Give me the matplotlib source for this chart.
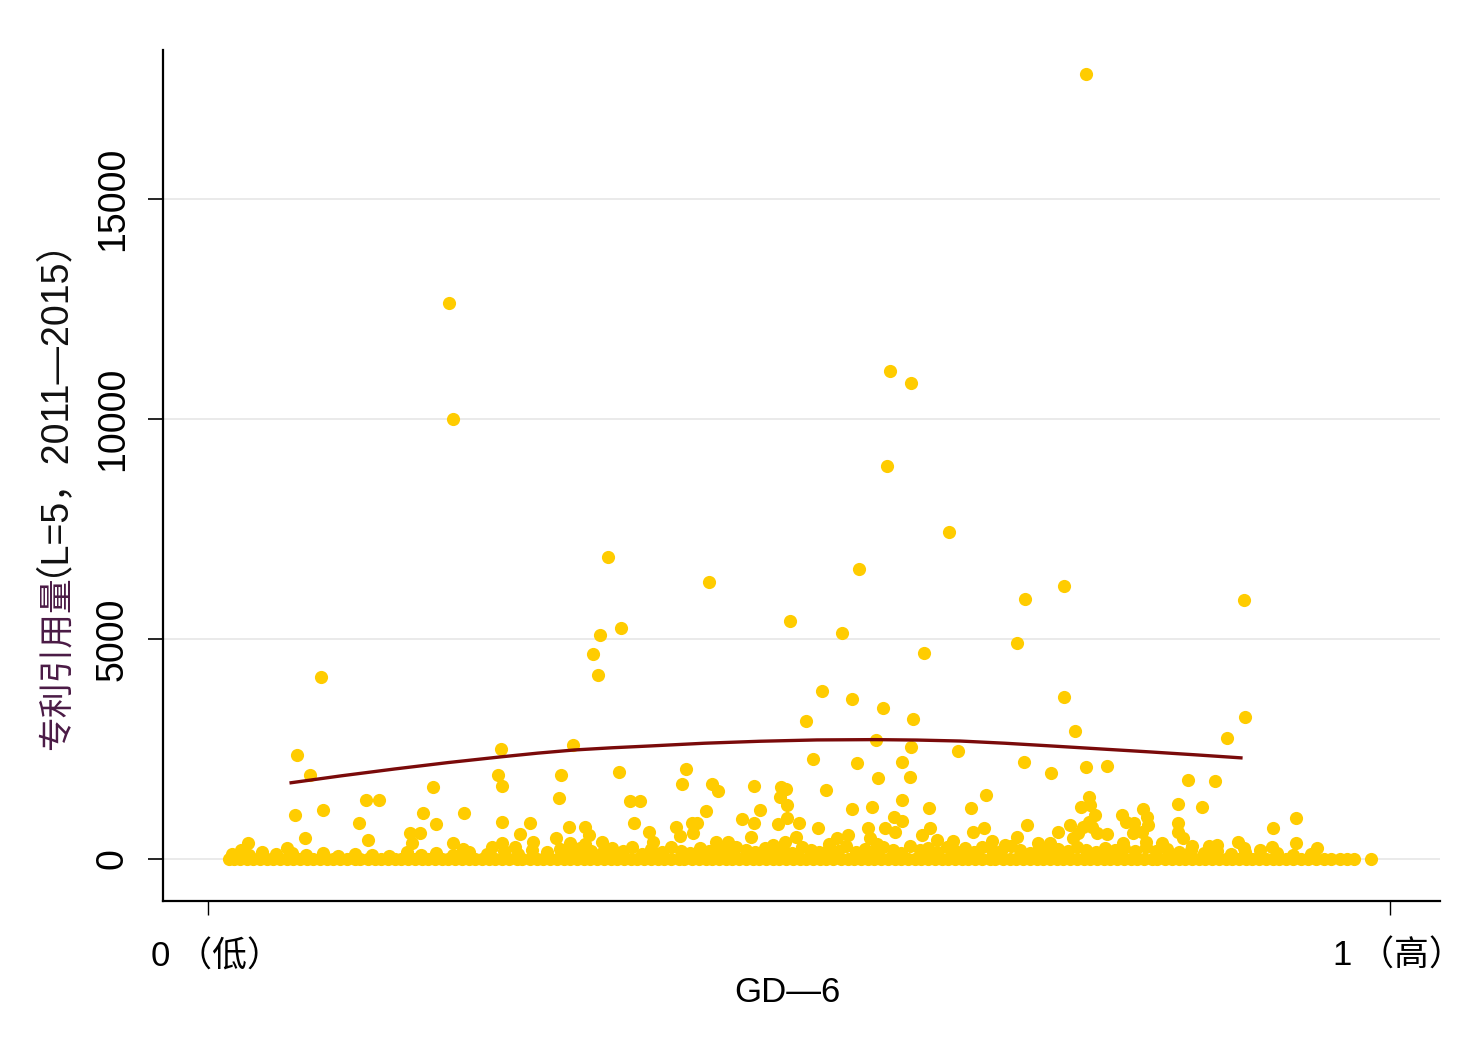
import numpy as np
import matplotlib.pyplot as plt
from matplotlib.transforms import ScaledTranslation

plt.rcParams['font.family'] = ['Liberation Sans', 'Noto Sans CJK SC', 'DejaVu Sans']

# 散点：离群点（GD-6, 专利引用量）
pts_x = [0.743, 0.204, 0.207, 0.577, 0.595, 0.574, 0.627, 0.338, 0.551, 0.424,
         0.724, 0.691, 0.876, 0.492, 0.349, 0.536, 0.332, 0.684, 0.326, 0.606,
         0.330, 0.096, 0.519, 0.545, 0.724, 0.571, 0.506, 0.596, 0.877, 0.733,
         0.565, 0.862, 0.309, 0.595, 0.634, 0.248, 0.075, 0.512, 0.549, 0.690,
         0.587, 0.086, 0.245, 0.299, 0.348, 0.404, 0.743, 0.760, 0.713, 0.567,
         0.594, 0.829, 0.852, 0.249, 0.190, 0.401, 0.426, 0.431, 0.462, 0.485,
         0.489, 0.523, 0.745, 0.658, 0.134, 0.145, 0.297, 0.357, 0.365, 0.484,
         0.490, 0.587, 0.097, 0.217, 0.182, 0.074, 0.421, 0.467, 0.545, 0.562,
         0.610, 0.645, 0.738, 0.746, 0.750, 0.773, 0.791, 0.794, 0.820, 0.841,
         0.920]
pts_y = [17840, 12640, 10000, 11090, 10820, 8930, 7430, 6860, 6590, 6300,
         6200, 5910, 5890, 5410, 5250, 5140, 5090, 4910, 4660, 4680,
         4180, 4140, 3820, 3640, 3680, 3430, 3140, 3180, 3230, 2910,
         2700, 2750, 2590, 2550, 2450, 2500, 2360, 2270, 2180, 2200,
         2200, 1910, 1910, 1910, 1980, 2050, 2090, 2110, 1950, 1840,
         1860, 1800, 1770, 1660, 1640, 1700, 1700, 1550, 1660, 1640,
         1600, 1570, 1410, 1450, 1340, 1340, 1390, 1320, 1320, 1400,
         1230, 1340, 1110, 1050, 1050, 1000, 1090, 1110, 1140, 1180,
         1160, 1160, 1180, 1230, 1000, 1000, 1140, 955, 1250, 1180,
         930]

# 中间层
mid_x = [0.034, 0.067, 0.082, 0.128, 0.135, 0.171, 0.179, 0.173, 0.193, 0.249,
         0.249, 0.207, 0.216, 0.240, 0.272, 0.264, 0.260, 0.275, 0.294, 0.305,
         0.319, 0.322, 0.319, 0.306, 0.333, 0.360, 0.373, 0.376, 0.396, 0.399,
         0.410, 0.409, 0.414, 0.430, 0.440, 0.452, 0.462, 0.459, 0.482, 0.488,
         0.497, 0.478, 0.490, 0.516, 0.532, 0.541, 0.558, 0.573, 0.580, 0.587,
         0.581, 0.566, 0.611, 0.604, 0.617, 0.630, 0.647, 0.656, 0.663, 0.684,
         0.693, 0.702, 0.719, 0.729, 0.732, 0.525, 0.674, 0.712, 0.748, 0.783,
         0.795, 0.790, 0.774, 0.793, 0.820, 0.820, 0.825, 0.807, 0.832, 0.853,
         0.871, 0.901, 0.900, 0.920, 0.938, 0.890, 0.876, 0.740, 0.736, 0.745,
         0.776, 0.782, 0.760, 0.752, 0.847, 0.500, 0.560]
mid_y = [360, 250, 470, 820, 430, 590, 590, 360, 800, 840,
         360, 360, 230, 270, 820, 570, 270, 390, 480, 730,
         730, 550, 340, 360, 390, 820, 610, 390, 730, 520,
         590, 820, 820, 390, 390, 910, 820, 500, 800, 390,
         500, 320, 930, 700, 480, 550, 700, 700, 955, 860,
         610, 340, 700, 550, 430, 410, 610, 700, 410, 500,
         770, 360, 610, 770, 480, 340, 320, 360, 730, 820,
         770, 610, 360, 390, 820, 610, 480, 360, 300, 320,
         390, 700, 270, 360, 250, 200, 250, 730, 590, 830,
         840, 600, 570, 590, 300, 820, 480]

# 底部密集带（y≈0）
zero_x = [0.018, 0.022, 0.027, 0.033, 0.038, 0.044, 0.050, 0.055, 0.061, 0.067,
          0.072, 0.078, 0.084, 0.089, 0.095, 0.101, 0.106, 0.112, 0.118, 0.124,
          0.129, 0.135, 0.141, 0.146, 0.152, 0.158, 0.163, 0.169, 0.175, 0.181,
          0.186, 0.192, 0.198, 0.203, 0.209, 0.215, 0.221, 0.226, 0.232, 0.238,
          0.243, 0.249, 0.255, 0.261, 0.266, 0.272, 0.278, 0.283, 0.289, 0.295,
          0.301, 0.306, 0.312, 0.318, 0.323, 0.329, 0.335, 0.341, 0.346, 0.352,
          0.358, 0.363, 0.369, 0.375, 0.381, 0.386, 0.392, 0.398, 0.403, 0.409,
          0.415, 0.421, 0.426, 0.432, 0.438, 0.443, 0.449, 0.455, 0.461, 0.466,
          0.472, 0.478, 0.483, 0.489, 0.495, 0.501, 0.506, 0.512, 0.518, 0.523,
          0.529, 0.535, 0.541, 0.546, 0.552, 0.558, 0.563, 0.569, 0.575, 0.581,
          0.586, 0.592, 0.598, 0.603, 0.609, 0.615, 0.621, 0.626, 0.632, 0.638,
          0.643, 0.649, 0.655, 0.661, 0.666, 0.672, 0.678, 0.683, 0.689, 0.695,
          0.701, 0.706, 0.712, 0.718, 0.723, 0.729, 0.735, 0.741, 0.746, 0.752,
          0.758, 0.763, 0.769, 0.775, 0.781, 0.786, 0.792, 0.798, 0.803, 0.809,
          0.815, 0.821, 0.826, 0.832, 0.838, 0.843, 0.849, 0.855, 0.861, 0.866,
          0.872, 0.878, 0.883, 0.889, 0.895, 0.901, 0.906, 0.912, 0.918, 0.924,
          0.930, 0.937, 0.944, 0.950, 0.957, 0.963, 0.969, 0.984]

low_x = [0.020, 0.028, 0.035, 0.046, 0.058, 0.071, 0.083, 0.097, 0.110, 0.124,
         0.139, 0.153, 0.168, 0.180, 0.193, 0.207, 0.221, 0.236, 0.250, 0.262,
         0.274, 0.287, 0.298, 0.306, 0.315, 0.324, 0.333, 0.342, 0.351, 0.359,
         0.367, 0.375, 0.384, 0.392, 0.400, 0.408, 0.416, 0.424, 0.432, 0.440,
         0.447, 0.455, 0.463, 0.471, 0.479, 0.486, 0.494, 0.502, 0.510, 0.517,
         0.525, 0.533, 0.540, 0.548, 0.556, 0.563, 0.571, 0.579, 0.586, 0.594,
         0.602, 0.609, 0.617, 0.625, 0.632, 0.640, 0.648, 0.655, 0.663, 0.671,
         0.679, 0.687, 0.695, 0.703, 0.711, 0.719, 0.727, 0.735, 0.743, 0.751,
         0.759, 0.767, 0.775, 0.784, 0.793, 0.802, 0.811, 0.821, 0.831, 0.842,
         0.853, 0.865, 0.877, 0.890, 0.904, 0.918, 0.933]
low_y = [120, 200, 90, 150, 110, 140, 80, 130, 70, 120,
         100, 60, 150, 90, 130, 80, 160, 110, 180, 120,
         200, 150, 230, 130, 260, 180, 140, 240, 170, 280,
         120, 220, 160, 270, 190, 130, 250, 170, 230, 140,
         280, 200, 150, 260, 180, 230, 140, 270, 200, 160,
         250, 190, 290, 150, 230, 180, 270, 210, 140, 300,
         200, 250, 160, 280, 190, 240, 150, 270, 210, 180,
         290, 200, 140, 260, 190, 230, 170, 280, 210, 150,
         260, 200, 240, 170, 280, 190, 230, 150, 210, 130,
         180, 110, 160, 90, 130, 80, 110]

# 拟合曲线
fit_x = [0.069, 0.113, 0.158, 0.203, 0.247, 0.279, 0.310, 0.342, 0.374, 0.420,
         0.467, 0.515, 0.564, 0.600, 0.636, 0.674, 0.712, 0.755, 0.797, 0.836, 0.875]
fit_y = [1727, 1890, 2045, 2190, 2318, 2405, 2477, 2527, 2568, 2630,
         2675, 2705, 2712, 2702, 2680, 2630, 2570, 2500, 2432, 2365, 2295]

gold = '#FFCC00'

fig = plt.figure(figsize=(14.84, 10.6), dpi=100)
ax = fig.add_axes([0.1098, 0.150, 0.8606, 0.803])

for xs, ys in [(zero_x, [0] * len(zero_x)), (low_x, low_y), (mid_x, mid_y), (pts_x, pts_y)]:
    ax.scatter(xs, ys, s=90, color=gold, linewidths=0, zorder=2)
ax.plot(fit_x, fit_y, color='#7a0a0a', lw=2.4, zorder=3, solid_capstyle='butt')

ax.set_xlim(-0.038, 1.042)
ax.set_ylim(-955, 18386)
ax.set_yticks([0, 5000, 10000, 15000])
ax.set_xticks([0, 1])
ax.set_xticklabels(['0\u2009（低）', '1\u2009（高）'])
ax.grid(axis='y', color='#e6e6e6', lw=1.2, zorder=0)
ax.set_axisbelow(True)

for s in ['top', 'right']:
    ax.spines[s].set_visible(False)
for s in ['left', 'bottom']:
    ax.spines[s].set_linewidth(1.6)

ax.tick_params(axis='y', direction='out', length=11, width=1.2, pad=12, labelsize=27)
ax.tick_params(axis='x', direction='out', length=10, width=1.0, pad=18, labelsize=25)
for lab in ax.get_yticklabels():
    lab.set_rotation(90)
    lab.set_va('center')
shift = ScaledTranslation(6 / 72, 0, fig.dpi_scale_trans)
for lab in ax.get_xticklabels():
    lab.set_transform(lab.get_transform() + shift)

ax.set_xlabel('GD—6', fontsize=25)
ax.xaxis.set_label_coords(0.489, -0.088)

fig.text(0.0384, (1060 - 750) / 1060, '专利引用量', rotation=90, fontsize=25,
         color='#4a1a45', ha='center', va='bottom', family='Noto Sans CJK SC')
fig.text(0.0220, (1060 - 576) / 1060, '（L=5，2011—2015）', rotation=90, fontsize=27,
         color='#111111', ha='center', va='bottom',
         family=['Liberation Sans', 'Noto Sans CJK SC'])

fig.savefig('out.png', dpi=100, facecolor='white')
